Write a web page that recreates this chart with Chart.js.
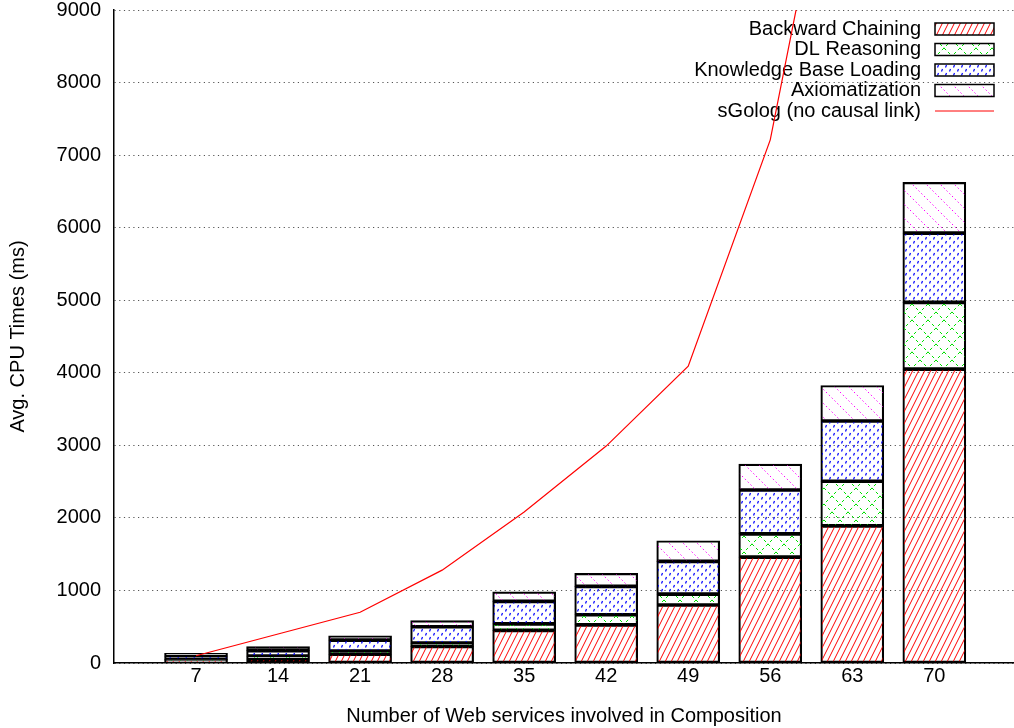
<!DOCTYPE html>
<html>
<head>
<meta charset="utf-8">
<script src="https://cdn.jsdelivr.net/npm/chart.js@4.4.1/dist/chart.umd.min.js"></script>
<style>
  body { margin: 0; background: #fff; }
</style>
</head>
<body>
<canvas id="chart" width="1014" height="728"></canvas>
<script>
// data (ms)
var services = [7, 14, 21, 28, 35, 42, 49, 56, 63, 70];
var backwardChaining = [30, 55, 120, 230, 450, 525, 800, 1460, 1890, 4050];
var dlReasoning = [20, 40, 45, 45, 90, 140, 150, 320, 615, 920];
var kbLoading = [45, 75, 150, 225, 310, 390, 450, 605, 830, 955];
var axiomatization = [40, 55, 60, 85, 130, 180, 285, 355, 490, 700];
var sGolog = [100, 400, 700, 1280, 2080, 2990, 4090, 7210, 12900, null];
var yTicks = [0, 1000, 2000, 3000, 4000, 5000, 6000, 7000, 8000, 9000];

// fill patterns, gnuplot style
function makePattern(w, h, draw) {
    var c = document.createElement('canvas');
    c.width = w; c.height = h;
    var g = c.getContext('2d');
    draw(g);
    return g.createPattern(c, 'repeat');
}

var redHatch = makePattern(6, 12, function(g) {
    g.strokeStyle = '#ff0000'; g.lineWidth = 1;
    [-6, 0, 6].forEach(function(o) {
        g.beginPath(); g.moveTo(o, 12); g.lineTo(o + 6, 0); g.stroke();
    });
});
var greenCross = makePattern(16, 16, function(g) {
    g.strokeStyle = '#00e000'; g.lineWidth = 1;
    g.setLineDash([3, 2.6]);
    g.beginPath(); g.moveTo(0, 0); g.lineTo(16, 16); g.stroke();
    g.beginPath(); g.moveTo(16, 0); g.lineTo(0, 16); g.stroke();
});
var blueDots = makePattern(8, 8, function(g) {
    g.strokeStyle = '#0000ff'; g.lineWidth = 1.2;
    g.beginPath(); g.moveTo(1.5, 3.5); g.lineTo(2.5, 1); g.stroke();
    g.beginPath(); g.moveTo(5.5, 7.5); g.lineTo(6.5, 5); g.stroke();
});
var magentaDots = makePattern(14, 14, function(g) {
    g.strokeStyle = '#ff00ff'; g.lineWidth = 1;
    g.setLineDash([1.5, 2.5]);
    g.beginPath(); g.moveTo(0, 0); g.lineTo(14, 14); g.stroke();
});

// legend on the right, text then sample box (gnuplot key)
var keyPlugin = {
    id: 'key',
    beforeDatasetsDraw: function(chart) {
        var ctx = chart.ctx;
        var rowY = 29, step = 20.5;
        ctx.save();
        ctx.font = '20px "Liberation Sans", Arial, sans-serif';
        ctx.textAlign = 'right';
        ctx.textBaseline = 'middle';
        chart.data.datasets.forEach(function(ds, i) {
            var y = rowY + i * step;
            ctx.fillStyle = '#000';
            ctx.fillText(ds.label, 921, y);
            if (ds.type === 'line') {
                ctx.strokeStyle = ds.borderColor; ctx.lineWidth = 1;
                ctx.beginPath(); ctx.moveTo(935, y); ctx.lineTo(994, y); ctx.stroke();
            } else {
                ctx.fillStyle = '#fff';
                ctx.fillRect(935, y - 6, 59, 12);
                ctx.fillStyle = ds.backgroundColor;
                ctx.fillRect(935, y - 6, 59, 12);
                ctx.strokeStyle = '#000'; ctx.lineWidth = 1.5;
                ctx.strokeRect(935, y - 6, 59, 12);
            }
        });
        ctx.restore();
    }
};

function barSet(label, data, fill) {
    return {
        label: label,
        data: data,
        backgroundColor: fill,
        borderColor: '#000',
        borderWidth: 1.5,
        borderSkipped: false,
        barThickness: 63,
        order: 1
    };
}

var fontFam = '"Liberation Sans", Arial, sans-serif';

var ctx = document.getElementById('chart').getContext('2d');
var myChart = new Chart(ctx, {
    type: 'bar',
    data: {
        labels: services,
        datasets: [
            barSet('Backward Chaining', backwardChaining, redHatch),
            barSet('DL Reasoning', dlReasoning, greenCross),
            barSet('Knowledge Base Loading', kbLoading, blueDots),
            barSet('Axiomatization', axiomatization, magentaDots),
            {
                type: 'line',
                label: 'sGolog (no causal link)',
                data: sGolog,
                borderColor: '#ff0000',
                borderWidth: 1.2,
                pointRadius: 0,
                tension: 0,
                fill: false,
                order: 0
            }
        ]
    },
    options: {
        responsive: false,
        animation: false,
        layout: { padding: { top: 10, right: 0, left: 0, bottom: 0 } },
        plugins: {
            legend: { display: false },
            tooltip: { enabled: false }
        },
        scales: {
            x: {
                type: 'linear',
                stacked: true,
                offset: false,
                min: 0,
                max: 76.8,
                afterFit: function(s) {
                    s.height = 65;
                    s.paddingLeft = 0; s.paddingRight = 0;
                },
                afterBuildTicks: function(s) {
                    s.ticks = [0].concat(services).map(function(v) { return { value: v }; });
                },
                ticks: {
                    autoSkip: false,
                    maxRotation: 0,
                    padding: 3,
                    color: '#000',
                    font: { family: fontFam, size: 20, lineHeight: 1 },
                    callback: function(v) { return v === 0 ? '' : String(v); }
                },
                grid: { display: false, drawTicks: false, offset: false },
                border: { display: true, color: '#000', width: 1.5 },
                title: {
                    display: true,
                    text: 'Number of Web services involved in Composition',
                    color: '#000',
                    padding: { top: 2, bottom: 0 },
                    font: { family: fontFam, size: 20 }
                }
            },
            y: {
                stacked: true,
                min: 0,
                max: 9000,
                afterFit: function(s) {
                    s.width = 114;
                    s.paddingTop = 0; s.paddingBottom = 0;
                },
                afterBuildTicks: function(s) {
                    s.ticks = yTicks.map(function(v) { return { value: v }; });
                },
                ticks: {
                    padding: 13,
                    color: '#000',
                    font: { family: fontFam, size: 20, lineHeight: 1 },
                    callback: function(v) { return String(v); }
                },
                grid: { color: '#555', lineWidth: 1, drawTicks: false },
                border: { display: true, color: '#000', width: 1.5, dash: [1.2, 3.5] },
                title: {
                    display: true,
                    text: 'Avg. CPU Times (ms)',
                    color: '#000',
                    padding: { top: 6, bottom: 0 },
                    font: { family: fontFam, size: 20 }
                }
            }
        }
    },
    plugins: [keyPlugin]
});
</script>
</body>
</html>
